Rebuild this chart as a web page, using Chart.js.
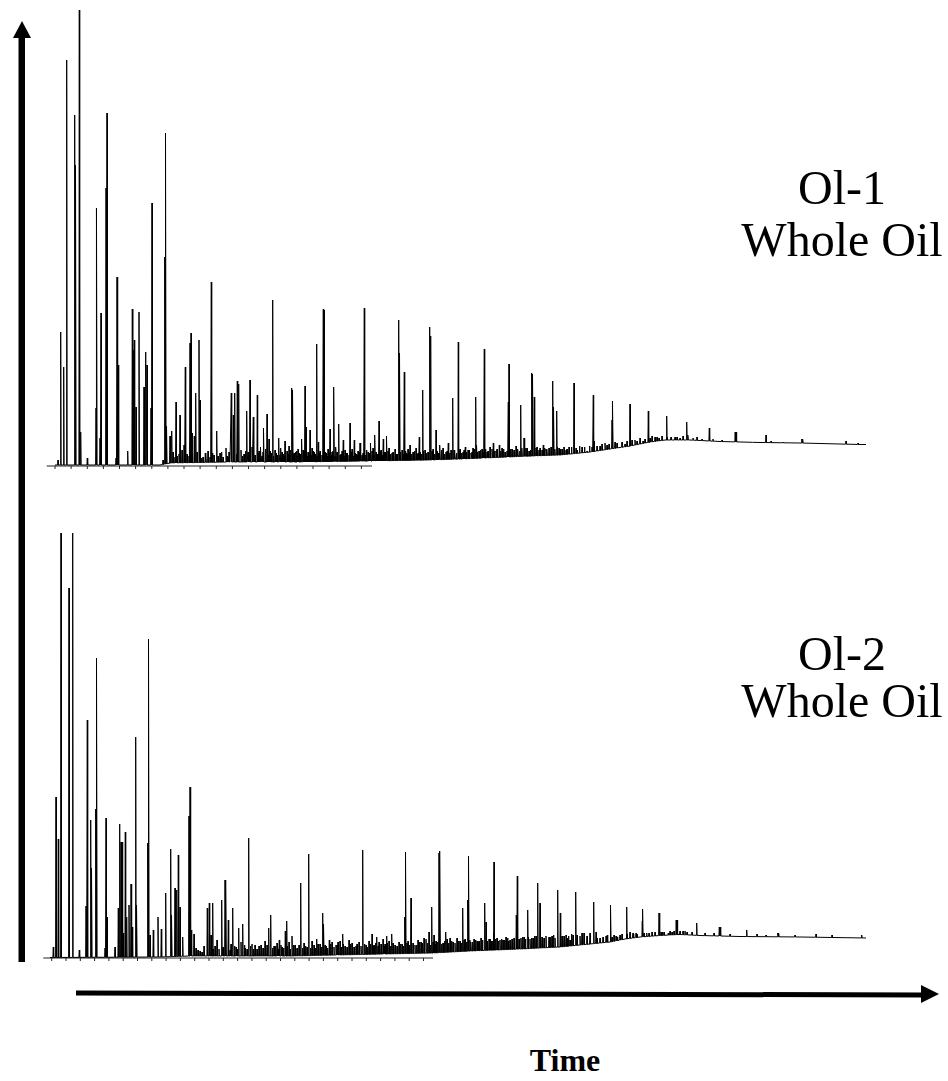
<!DOCTYPE html>
<html>
<head>
<meta charset="utf-8">
<title>Whole oil gas chromatograms</title>
<script src="https://cdn.jsdelivr.net/npm/chart.js@4.4.1/dist/chart.umd.min.js"></script>
<style>
  html, body { margin: 0; padding: 0; background: #fff; }
  #page { position: relative; width: 948px; height: 1081px; overflow: hidden; background: #fff; }
  canvas { position: absolute; }
  #gc1 { left: 37px; top: 0px; }
  #gc2 { left: 37px; top: 520px; }
  #arrows { position: absolute; left: 0; top: 0; }
  .lbl { position: absolute; font-family: "Liberation Serif", "Times New Roman", serif; color: #000;
         white-space: nowrap; text-align: center; transform: translateX(-50%); }
  .sample { font-size: 48px; line-height: 48px; }
  .time { font-size: 32px; line-height: 32px; font-weight: bold; }
</style>
</head>
<body>
<div id="page">
  <svg id="arrows" width="948" height="1081">
    <!-- intensity axis -->
    <rect x="18.5" y="36" width="6.5" height="926" fill="#000"/>
    <polygon points="13,38 22,21 31,38" fill="#000"/>
    <!-- time axis -->
    <polygon points="76,990.5 922,992.5 922,997.5 76,995.5" fill="#000"/>
    <polygon points="921,985 939,994 921,1003" fill="#000"/>
  </svg>
  <canvas id="gc1" width="840" height="480"></canvas>
  <canvas id="gc2" width="840" height="450"></canvas>
  <div class="lbl sample" style="left:842px; top:164px;">Ol-1</div>
  <div class="lbl sample" style="left:842px; top:216px;">Whole Oil</div>
  <div class="lbl sample" style="left:842px; top:630px;">Ol-2</div>
  <div class="lbl sample" style="left:842px; top:677px;">Whole Oil</div>
  <div class="lbl time" style="left:565px; top:1044px;">Time</div>
</div>
<script>
// Retention time in minutes, detector signal in arbitrary units.

// ---- Ol-1 whole oil ----
const ol1BaseTimes  = [0.8, 11.3, 12.3, 18.3, 25.3, 32.5, 38.3, 41.3, 47.3, 51.3, 54.3, 56.3, 58.3, 60.3, 61.8, 64.3, 67.3, 71.3, 75.3, 81.3, 81.9];
const ol1BaseLevels = [1, 1, 3, 4, 4, 5, 6, 7, 9.5, 11, 14, 17, 20, 24, 26, 26, 24.5, 23.5, 23, 21.5, 21.5];

const ol1PeakTimes = [1.1, 1.37, 1.67, 1.97, 2.77, 2.87, 3.23, 3.37, 4.03, 4.9, 4.97, 5.3, 5.4, 5.9, 6.0, 6.9, 7.0, 7.13, 8.07, 8.53,
  8.63, 8.73, 8.9, 9.2, 9.7, 9.87, 10.0, 10.4, 10.5, 11.6, 11.77, 11.87, 11.97, 12.3, 12.47, 12.9, 13.3, 13.7, 13.83, 14.3,
  14.4, 14.5, 14.73, 14.87, 15.2, 15.3, 15.83, 16.43, 16.97, 18.2, 18.43, 18.63, 18.77, 19.03, 19.17, 19.97, 20.3, 20.63, 21.03, 21.37,
  21.67, 22.0, 22.2, 22.57, 23.17, 23.8, 24.47, 24.57, 24.97, 25.47, 25.8, 25.9, 26.3, 26.7, 26.97, 27.13, 27.63, 27.7, 28.3, 28.7,
  29.17, 29.63, 30.3, 30.73, 31.3, 31.73, 32.37, 32.8, 33.2, 33.63, 33.97, 35.17, 35.27, 35.73, 36.3, 37.23, 37.57, 38.27, 38.37, 38.9,
  39.3, 40.13, 40.57, 41.13, 41.83, 42.87, 42.97, 43.73, 44.63, 45.23, 46.13, 46.2, 46.9, 47.37, 47.7, 48.47, 48.57, 48.73, 49.3, 49.63,
  49.9, 50.57, 50.67, 50.97, 51.2, 51.9, 52.7, 54.0, 54.63, 54.7, 55.3, 55.8, 56.5, 56.57, 57.23, 57.8, 58.3, 59.0, 59.6, 60.13,
  60.5, 61.2, 61.97, 62.4, 63.3, 63.97, 64.1, 65.5, 66.23, 68.82, 68.92, 70.6, 71.9, 72.4, 73.6, 75.48, 75.58, 79.9, 81.1];
const ol1PeakApex = [6, 134, 99, 406, 351, 301, 456, 34, 8, 58, 258, 28, 153, 278, 353, 8, 189, 101, 15, 157,
  116, 126, 59, 154, 79, 114, 101, 58, 263, 6, 209, 333, 40, 30, 35, 64, 51, 21, 99, 123,
  133, 33, 30, 73, 126, 66, 13, 184, 35, 14, 73, 51, 73, 85, 82, 55, 86, 49, 71, 19,
  38, 52, 27, 166, 28, 25, 78, 76, 15, 27, 80, 39, 36, 14, 122, 24, 157, 156, 37, 79,
  42, 26, 43, 26, 23, 158, 23, 31, 45, 27, 30, 146, 113, 94, 21, 29, 76, 139, 130, 36,
  21, 23, 68, 124, 19, 69, 21, 117, 23, 21, 64, 102, 20, 61, 28, 93, 92, 69, 18, 21,
  17, 85, 59, 55, 18, 16, 83, 15, 71, 25, 20, 23, 46, 65, 19, 22, 62, 25, 25, 55,
  30, 28, 50, 29, 28, 44, 31, 27, 38, 34, 34, 24, 31, 25, 24, 27, 27, 25, 23];

// unresolved background components of Ol-1
const ol1MinorTimes = [12.6, 13.0, 13.5, 14.0, 15.6, 16.1, 16.7, 17.3, 17.6, 17.9, 18.0, 19.4, 19.7, 20.1, 20.5, 20.8, 21.2, 21.5, 21.85, 22.4,
  22.8, 23.0, 23.4, 23.6, 24.0, 24.2, 24.7, 25.1, 25.3, 25.6, 26.1, 26.5, 26.8, 27.3, 27.9, 28.1, 28.5, 28.9, 29.4, 29.8,
  30.0, 30.5, 30.9, 31.1, 31.5, 31.95, 32.2, 32.6, 33.0, 33.4, 33.8, 34.2, 34.5, 34.8, 35.0, 35.5, 35.9, 36.1, 36.6, 36.9,
  37.1, 37.8, 38.1, 38.6, 39.1, 39.6, 39.9, 40.4, 40.8, 41.3, 41.6, 42.1, 42.4, 42.6, 43.2, 43.5, 44.0, 44.3, 44.9, 45.5,
  45.8, 46.5, 47.1, 47.9, 48.2, 49.0, 49.5, 50.2, 51.5, 52.2, 53.0, 53.5, 55.0, 56.0, 57.0, 58.8, 59.3, 60.8, 61.5, 62.8,
  63.6, 64.6, 65.0, 66.6, 67.5,
  12.8, 13.2, 14.2, 15.0, 15.45, 15.9, 16.3, 16.55, 17.1, 17.45, 18.1, 18.95, 19.55, 19.85, 20.2, 20.7, 21.1, 21.3, 21.6, 22.1,
  22.3, 22.65, 22.9, 23.3, 23.5, 23.7, 24.1, 24.35, 24.6, 24.85, 25.0, 25.2, 25.45, 25.7, 26.0, 26.2, 26.4, 26.6, 27.0, 27.2,
  27.5, 27.8, 28.0, 28.2, 28.4, 28.6, 28.8, 29.0, 29.3, 29.5, 29.7, 29.9, 30.2, 30.4, 30.6, 30.8, 31.0, 31.2, 31.4, 31.6,
  31.85, 32.1, 32.3, 32.5, 32.7, 32.9, 33.1, 33.3, 33.5, 33.7, 33.9, 34.1, 34.35, 34.6, 34.9, 35.35, 35.6, 35.85, 36.0, 36.25,
  36.45, 36.75, 37.0, 37.3, 37.45, 37.65, 37.95, 38.5, 38.75, 39.0, 39.2, 39.45, 39.75, 40.0, 40.25, 40.7, 40.95, 41.2, 41.45, 41.7,
  41.95, 42.2, 42.5, 42.75, 43.0, 43.35, 43.6, 43.85, 44.1, 44.5, 44.75, 45.0, 45.35, 45.65, 46.0, 46.35, 46.7, 47.0, 47.25, 47.5,
  47.8, 48.0, 48.35, 48.9, 49.2, 49.75, 50.0, 50.4, 50.8, 51.05, 51.35, 51.7, 52.0, 52.45, 52.9, 53.25, 53.75, 54.25, 54.5, 55.5,
  56.2, 56.8, 57.5, 58.0, 58.5, 59.8, 60.3, 61.0, 62.0, 63.0];
const ol1MinorLevels = [14, 10, 16, 12, 9, 15, 11, 13, 9, 18, 10, 16, 12, 14, 19, 11, 15, 10, 17, 13,
  16, 11, 18, 12, 15, 20, 13, 17, 12, 16, 14, 18, 12, 15, 13, 17, 14, 19, 12, 16,
  13, 17, 12, 15, 11, 16, 13, 18, 12, 16, 14, 18, 13, 17, 12, 16, 13, 17, 14, 18,
  13, 16, 14, 17, 13, 18, 14, 16, 13, 17, 14, 16, 13, 18, 15, 17, 14, 19, 15, 18,
  14, 17, 16, 18, 15, 19, 16, 18, 17, 19, 16, 19, 20, 21, 23, 26, 28, 29, 30, 29,
  30, 28, 29, 27, 26,
  9, 12, 10, 14, 8, 11, 9, 13, 10, 14, 9, 12, 10, 15, 11, 9, 13, 10, 14, 11,
  15, 10, 13, 11, 14, 10, 12, 16, 11, 14, 10, 13, 11, 15, 10, 13, 11, 15, 10, 13,
  11, 14, 10, 13, 11, 15, 10, 14, 11, 15, 10, 13, 11, 14, 10, 13, 11, 14, 10, 13,
  11, 14, 11, 15, 11, 14, 12, 15, 11, 14, 12, 15, 12, 14, 12, 14, 12, 15, 12, 14,
  12, 15, 12, 14, 12, 15, 13, 15, 12, 15, 13, 16, 12, 15, 13, 16, 13, 15, 13, 16,
  14, 16, 14, 17, 14, 16, 14, 17, 15, 17, 15, 17, 15, 17, 15, 17, 16, 17, 15, 18,
  16, 18, 16, 18, 16, 18, 17, 19, 17, 19, 17, 19, 17, 19, 18, 20, 19, 20, 19, 22,
  22, 24, 24, 25, 26, 27, 28, 29, 29, 29];

// ---- Ol-2 whole oil ----
const ol2BaseTimes  = [0.3, 11.3, 14.3, 24.3, 38.6, 42.3, 47.3, 51.3, 54.3, 56.3, 57.8, 59.3, 61.3, 63.3, 65.3, 69.3, 75.3, 81.9];
const ol2BaseLevels = [0.5, 1, 2, 2, 5, 7, 9, 11, 14, 16, 19, 21, 22.5, 23.5, 22.5, 21.5, 21, 20];

const ol2PeakTimes = [0.63, 0.9, 1.13, 1.4, 2.2, 2.57, 3.23, 3.9, 4.03, 4.37, 4.47, 4.87, 4.97, 5.8, 5.9, 6.0, 6.8, 7.13, 7.27, 7.4,
  7.5, 7.63, 7.83, 7.97, 8.2, 8.4, 8.53, 8.87, 8.97, 10.07, 10.17, 10.3, 10.63, 11.1, 11.43, 11.87, 12.37, 12.47, 12.8, 12.97,
  13.13, 13.3, 13.57, 14.2, 14.3, 14.43, 14.7, 15.7, 16.03, 16.23, 16.4, 16.57, 17.0, 17.47, 17.8, 17.9, 18.13, 18.57, 19.17, 19.57,
  20.17, 20.8, 22.17, 22.37, 23.23, 23.83, 23.97, 24.5, 25.37, 26.17, 26.97, 27.57, 27.67, 28.23, 29.1, 29.57, 30.2, 31.57, 32.5, 32.97,
  33.6, 33.97, 34.47, 35.77, 35.87, 36.4, 37.4, 37.7, 38.2, 38.47, 38.7, 39.2, 39.3, 39.87, 40.3, 41.57, 42.07, 42.17, 43.0, 43.4,
  43.77, 43.9, 44.67, 44.7, 45.3, 46.13, 46.93, 47.03, 47.4, 48.07, 48.6, 49.07, 49.3, 50.2, 51.07, 51.33, 52.3, 52.87, 54.0, 54.67,
  55.3, 56.03, 56.37, 56.7, 57.03, 57.97, 58.3, 58.63, 59.0, 59.53, 59.57, 59.97, 60.5, 61.2, 61.7, 62.13, 62.5, 62.92, 63.02, 63.3,
  64.0, 64.97, 65.8, 66.7, 67.23, 67.33, 68.3, 69.97, 71.0, 71.9, 73.08, 73.18, 74.8, 76.9, 78.5, 81.47];
const ol2PeakApex = [11, 161, 119, 425, 370, 425, 8, 52, 238, 138, 90, 149, 300, 10, 140, 41, 11, 50, 134, 116,
  116, 25, 126, 41, 53, 74, 31, 221, 53, 115, 319, 23, 28, 41, 29, 65, 109, 43, 70, 68,
  103, 51, 21, 142, 171, 28, 24, 12, 50, 55, 23, 55, 18, 58, 78, 73, 38, 50, 30, 34,
  120, 13, 30, 43, 18, 27, 37, 22, 75, 104, 19, 45, 34, 18, 16, 24, 18, 108, 24, 21,
  19, 22, 24, 41, 106, 60, 16, 20, 26, 51, 23, 105, 107, 26, 20, 50, 58, 102, 17, 20,
  55, 36, 25, 96, 18, 17, 43, 82, 20, 48, 20, 75, 55, 21, 68, 45, 18, 66, 22, 56,
  20, 23, 53, 23, 21, 51, 26, 24, 24, 37, 49, 25, 26, 45, 26, 25, 26, 38, 38, 27,
  26, 35, 25, 25, 31, 31, 24, 28, 24, 23, 25, 25, 23, 24, 23, 23];

// unresolved background components of Ol-2
const ol2MinorTimes = [14.9, 15.3, 16.8, 17.2, 18.4, 18.9, 19.4, 19.8, 20.5, 21.0, 21.4, 21.8, 22.7, 23.0, 23.5, 24.2, 24.8, 25.7, 26.0, 26.5,
  27.3, 27.9, 28.5, 28.9, 29.3, 29.8, 30.5, 30.9, 31.2, 31.9, 32.2, 32.7, 33.2, 33.8, 34.2, 34.8, 35.2, 35.5, 36.1, 36.8,
  37.1, 37.5, 37.9, 38.9, 39.6, 40.0, 40.6, 41.0, 41.3, 41.8, 42.4, 42.7, 43.2, 44.2, 44.4, 45.0, 45.6, 45.9, 46.5, 47.7,
  48.3, 48.9, 49.7, 50.5, 50.8, 51.7, 52.0, 52.6, 53.3, 53.7, 55.0, 55.6, 56.9, 57.5, 58.6, 60.2, 60.8, 61.5, 62.3, 63.6,
  64.5,
  15.1, 15.5, 16.6, 17.6, 18.3, 18.75, 19.0, 19.75, 20.0, 20.35, 20.65, 21.2, 21.6, 22.0, 22.55, 22.85, 23.1, 23.4, 23.65, 24.0,
  24.35, 24.65, 25.0, 25.2, 25.55, 25.85, 26.35, 26.7, 26.85, 27.1, 27.45, 27.8, 28.05, 28.35, 28.7, 29.0, 29.45, 29.65, 30.0, 30.35,
  30.7, 31.0, 31.4, 31.75, 32.05, 32.35, 32.6, 32.85, 33.1, 33.4, 33.7, 34.0, 34.35, 34.6, 35.0, 35.35, 35.6, 36.0, 36.25, 36.6,
  36.95, 37.25, 37.55, 38.05, 38.35, 38.6, 38.85, 39.05, 39.45, 39.75, 40.15, 40.45, 40.8, 41.15, 41.45, 41.7, 41.95, 42.3, 42.55, 42.85,
  43.1, 43.55, 44.0, 44.3, 44.55, 44.85, 45.15, 45.45, 45.75, 46.05, 46.3, 46.7, 47.2, 47.55, 47.85, 48.15, 48.45, 48.75, 49.5, 49.9,
  50.35, 50.65, 51.5, 51.9, 52.15, 52.45, 53.0, 53.5, 54.3, 54.9, 55.9, 56.5, 57.3, 58.0, 58.9, 59.7, 61.4, 62.7, 63.8];
const ol2MinorLevels = [10, 7, 12, 9, 14, 11, 16, 10, 14, 9, 13, 17, 12, 15, 11, 16, 13, 15, 11, 17,
  14, 12, 16, 13, 17, 12, 15, 12, 16, 13, 17, 13, 16, 14, 17, 13, 16, 14, 17, 13,
  18, 15, 19, 17, 15, 19, 16, 20, 17, 19, 16, 19, 17, 19, 17, 20, 18, 21, 19, 21,
  19, 22, 20, 22, 20, 22, 20, 23, 22, 25, 20, 21, 22, 24, 25, 25, 26, 26, 27, 27,
  26,
  8, 6, 9, 11, 8, 12, 9, 13, 9, 12, 9, 12, 10, 13, 10, 12, 9, 13, 10, 12,
  9, 13, 10, 13, 10, 12, 10, 13, 10, 14, 11, 13, 10, 14, 11, 13, 11, 14, 11, 14,
  11, 14, 12, 14, 11, 14, 12, 15, 12, 14, 12, 15, 12, 15, 12, 14, 12, 15, 13, 15,
  13, 16, 13, 15, 13, 16, 14, 16, 14, 17, 15, 17, 15, 17, 15, 18, 16, 18, 16, 18,
  16, 18, 17, 19, 17, 19, 17, 19, 18, 20, 18, 20, 19, 21, 19, 21, 20, 22, 21, 22,
  21, 23, 22, 23, 22, 24, 23, 25, 25, 26, 22, 21, 23, 24, 25, 25, 26, 27, 27];

// Integrator time axes printed under each trace (start, end, tick marks)
const ol1AxisRange = [-0.03, 32.5];
const ol1AxisTicks = [0.8, 2.41, 4.03, 5.64, 7.25, 8.86, 10.48, 12.09, 13.7, 15.31, 16.93, 18.54, 20.15, 21.76, 23.38, 24.99, 26.6, 28.21, 29.83, 31.44];
const ol2AxisRange = [-0.37, 38.6];
const ol2AxisTicks = [0.47, 1.9, 3.33, 4.76, 6.19, 7.62, 9.05, 10.48, 11.91, 13.34, 14.77, 16.2, 17.63, 19.06, 20.49, 21.92, 23.35, 24.78, 26.21, 27.64,
  29.07, 30.5, 31.93, 33.36, 34.79, 36.22, 37.65];

// baseline level under a given retention time (straight segments between the read knots)
function baselineAt(times, levels, t) {
  if (t <= times[0]) return levels[0];
  for (let i = 1; i < times.length; i++) {
    if (t <= times[i]) {
      const f = (t - times[i - 1]) / (times[i] - times[i - 1]);
      return levels[i - 1] + f * (levels[i] - levels[i - 1]);
    }
  }
  return levels[levels.length - 1];
}

// assemble the detector trace: baseline knots plus a narrow spike for every peak
function buildTrace(baseT, baseV, peakT, peakV, minorT, minorV) {
  const half = 0.04;
  const events = [];
  baseT.forEach((t, i) => events.push({ t, pts: [{ x: t, y: baseV[i] }] }));
  const addPeak = (t, v) => {
    const foot = baselineAt(baseT, baseV, t);
    events.push({ t, pts: [{ x: t - half, y: foot }, { x: t, y: v }, { x: t + half, y: foot }] });
  };
  peakT.forEach((t, i) => addPeak(t, peakV[i]));
  minorT.forEach((t, i) => { if (minorV[i] !== undefined) addPeak(t, minorV[i]); });
  events.sort((a, b) => a.t - b.t);
  const out = [];
  events.forEach(e => e.pts.forEach(p => out.push(p)));
  return out;
}

function makeChart(id, trace, axisRange, axisTicks, yMin, yMax) {
  new Chart(document.getElementById(id), {
    type: 'line',
    data: {
      datasets: [
        {
          label: 'signal',
          data: trace,
          borderColor: '#000',
          borderWidth: 1,
          pointRadius: 0,
          tension: 0,
          fill: false
        },
        {
          label: 'time axis',
          data: [{ x: axisRange[0], y: 0 }, { x: axisRange[1], y: 0 }],
          borderColor: '#222',
          borderWidth: 1,
          pointRadius: 0,
          fill: false
        },
        {
          label: 'ticks',
          data: axisTicks.map(t => ({ x: t, y: -1.5 })),
          showLine: false,
          pointStyle: 'line',
          rotation: 90,
          pointRadius: 1.5,
          borderColor: '#222',
          borderWidth: 1
        }
      ]
    },
    options: {
      responsive: false,
      maintainAspectRatio: false,
      devicePixelRatio: 1,
      animation: false,
      events: [],
      layout: { padding: 0, autoPadding: false },
      parsing: false,
      normalized: true,
      scales: {
        x: { type: 'linear', min: -1, max: 83, display: false },
        y: { type: 'linear', min: yMin, max: yMax, display: false }
      },
      plugins: { legend: { display: false }, tooltip: { enabled: false } }
    }
  });
}

makeChart('gc1', buildTrace(ol1BaseTimes, ol1BaseLevels, ol1PeakTimes, ol1PeakApex, ol1MinorTimes, ol1MinorLevels),
  ol1AxisRange, ol1AxisTicks, -14, 466);
makeChart('gc2', buildTrace(ol2BaseTimes, ol2BaseLevels, ol2PeakTimes, ol2PeakApex, ol2MinorTimes, ol2MinorLevels),
  ol2AxisRange, ol2AxisTicks, -12, 438);
</script>
</body>
</html>
